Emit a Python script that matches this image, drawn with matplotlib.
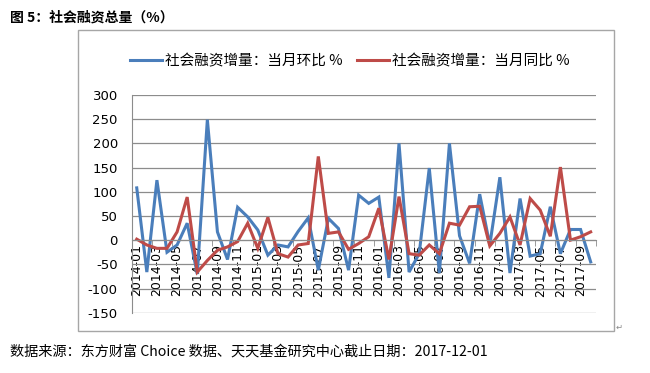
import matplotlib
matplotlib.use("Agg")
import matplotlib.pyplot as plt
from matplotlib.patches import Rectangle

plt.rcParams['font.family'] = ['Noto Sans CJK SC', 'DejaVu Sans']

months = [f"{y}-{m:02d}" for y in range(2014, 2018) for m in range(1, 13)][:46]

mom = [108, -66, 124, -25, -10, 35, -70, 249, 17, -40, 68, 48,
       21, -31, -10, -14, 18, 46, -62, 45, 24, -62, 93, 76,
       89, -78, 200, -66, -28, 149, -68, 200, 9, -48, 95, -10,
       130, -68, 86, -33, -28, 69, -28, 22, 22, -45]
yoy = [2, -10, -17, -17, 17, 89, -66, -42, -21, -14, -3, 35,
       -17, 47, -28, -35, -10, -7, 173, 14, 17, -19, -7, 7,
       66, -40, 90, -28, -31, -10, -28, 35, 31, 69, 70, -12,
       14, 48, -10, 86, 62, 8, 151, 0, 7, 17]

series_names = ['社会融资增量：当月环比 %', '社会融资增量：当月同比 %']
title = '图 5：社会融资总量（%）'
source = '数据来源：东方财富 Choice 数据、天天基金研究中心截止日期：2017-12-01'
yticks = list(range(-150, 301, 50))

W, H = 650, 373
fig = plt.figure(figsize=(W / 100, H / 100), dpi=100)

# chart border
fig.patches.append(Rectangle((78 / W, 1 - 331 / H), (614 - 78) / W, (331 - 30) / H,
                             transform=fig.transFigure, fill=False,
                             edgecolor='#a6a6a6', linewidth=1))

ax = fig.add_axes([131.7 / W, 1 - 312.7 / H, (595.7 - 131.7) / W, (312.7 - 95) / H])
for s in ['top', 'right']:
    ax.spines[s].set_visible(False)
ax.spines['left'].set_color('#8c8c8c')
ax.spines['bottom'].set_position(('data', 0))
ax.spines['bottom'].set_color('#8c8c8c')

x = list(range(len(months)))
l1, = ax.plot(x, mom, color='#4A7EBB', lw=2.2, solid_joinstyle='miter')
l2, = ax.plot(x, yoy, color='#BE4B48', lw=2.2, solid_joinstyle='miter')

ax.set_xlim(-0.5, len(months) - 0.5)
ax.set_ylim(-150, 300)
ax.set_yticks(yticks)
ax.set_yticklabels([str(v) for v in yticks], fontsize=9.5, family='DejaVu Sans')
ax.tick_params(axis='y', length=0, pad=10)
ax.yaxis.grid(True, color='#8c8c8c', lw=0.9)
ax.set_axisbelow(True)

ax.set_xticks(x[::2])
ax.set_xticklabels(months[::2], rotation=90, fontsize=9, family='DejaVu Sans')
ax.set_xticks([i + 0.5 for i in range(-1, len(months), 2)], minor=True)
ax.tick_params(axis='x', which='major', length=0, pad=3)
ax.tick_params(axis='x', which='minor', length=4, color='#8c8c8c', direction='out')
for lab in ax.get_xticklabels():
    lab.set_rotation(90)

fig.legend([l1, l2], series_names, loc='center', bbox_to_anchor=(350 / W, 1 - 61 / H),
           ncol=2, frameon=False, fontsize=10.5, handlelength=2.2, handletextpad=0.2,
           columnspacing=1.0)

fig.text(10 / W, 1 - 18 / H, title, fontsize=10, fontweight='bold', va='center', ha='left')
fig.text(10 / W, 1 - 352 / H, source, fontsize=10.2, va='center', ha='left')
fig.text(616 / W, 1 - 327 / H, '↵', fontsize=6, color='#888888', family='DejaVu Sans',
         va='center', ha='left')

fig.savefig('out.png', dpi=100)
